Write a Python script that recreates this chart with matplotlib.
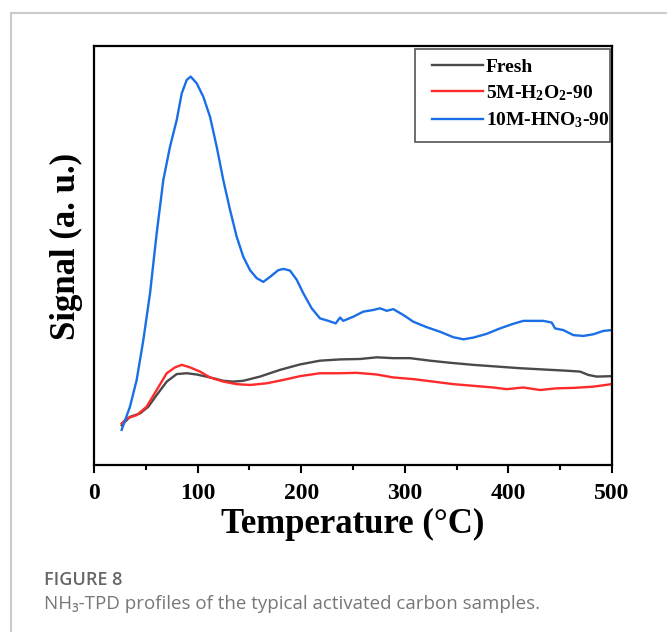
import matplotlib
matplotlib.use("Agg")
import matplotlib.pyplot as plt
from matplotlib.lines import Line2D
from matplotlib.patches import Rectangle

plt.rcParams['font.family'] = ['Liberation Serif', 'DejaVu Serif']
plt.rcParams['mathtext.fontset'] = 'custom'
plt.rcParams['mathtext.rm'] = 'Liberation Serif:bold'
plt.rcParams['mathtext.bf'] = 'Liberation Serif:bold'
plt.rcParams['mathtext.it'] = 'Liberation Serif:bold:italic'

# ---- data ----
fresh_T = [26.7, 34.7, 44.4, 52.4, 60.5, 70.2, 79.8, 89.5, 99.1, 112, 124.8, 134.5, 144.1,
           160.2, 179.5, 198.8, 218.1, 237.5, 256.8, 272.9, 288.9, 305, 324.3, 343.6,
           366.1, 388.7, 411.2, 433.7, 456.3, 469.1, 477.1, 485.2, 499.7]
fresh_S = [9.5, 11.5, 12.3, 13.9, 16.7, 19.9, 21.7, 21.9, 21.6, 20.9, 20.1, 19.9, 20.1,
           21.1, 22.7, 24.0, 24.9, 25.2, 25.3, 25.7, 25.5, 25.5, 24.9, 24.4,
           23.9, 23.5, 23.1, 22.8, 22.5, 22.3, 21.5, 21.1, 21.2]

h2o2_T = [26.7, 31.5, 41.2, 50.8, 60.5, 70.2, 78.2, 84.7, 92.7, 102.3, 112, 124.8, 137.7,
          150.6, 166.7, 182.7, 198.8, 218.1, 237.5, 253.6, 272.9, 288.9, 308.2, 327.5,
          346.8, 366.1, 385.4, 398.3, 414.4, 430.5, 446.6, 462.7, 482, 499.7]
h2o2_S = [9.9, 11.1, 11.9, 13.9, 17.9, 21.9, 23.3, 23.9, 23.3, 22.3, 20.9, 19.9, 19.3,
          19.1, 19.5, 20.3, 21.2, 21.9, 21.9, 22.0, 21.6, 20.9, 20.5, 19.9,
          19.3, 18.9, 18.5, 18.1, 18.5, 17.9, 18.3, 18.4, 18.7, 19.3]

hno3_T = [26.7, 34.7, 41.2, 47.6, 54.1, 60.5, 66.9, 73.4, 79.8, 84.7, 89.5, 93.3, 99.1,
          105.5, 112, 118.4, 124.8, 131.3, 137.7, 144.1, 150.6, 157, 163.4, 169.9,
          177.9, 183.0, 189.2, 195.7, 202, 210.1, 218.1, 226.2, 233.3, 237.5, 240.6,
          250.3, 259.9, 269.6, 276.1, 282.5, 288.9, 298.6, 308.2, 321.1, 334, 346.8,
          356.5, 366.1, 379, 391.9, 404.7, 414.4, 424, 433.7, 441.8, 445, 453, 462.7,
          472.3, 482, 491.6, 499.7]
hno3_S = [8.4, 13.9, 20.3, 29.8, 41.0, 55.3, 68.0, 76.0, 82.3, 88.7, 91.9, 92.7, 91.1,
          87.9, 83.1, 76.0, 68.0, 60.9, 54.5, 49.7, 46.5, 44.6, 43.7, 44.9,
          46.5, 46.8, 46.4, 44.2, 41.0, 37.4, 35.0, 34.4, 33.8, 35.2, 34.4,
          35.4, 36.6, 37.0, 37.4, 36.8, 37.2, 35.8, 34.2, 32.9, 31.8, 30.5,
          30.0, 30.4, 31.3, 32.6, 33.7, 34.4, 34.4, 34.4, 34.0, 32.6, 32.2, 31.0,
          30.8, 31.2, 32.0, 32.2]

labels = ['Fresh', r'5M-H$_{2}$O$_{2}$-90', r'10M-HNO$_{3}$-90']
colors = ['#4a4a4a', '#ff2a2a', '#1a6fe6']
x_ticks = [0, 100, 200, 300, 400, 500]

fig = plt.figure(figsize=(6.67, 6.32), dpi=100)

# card border
fig.add_artist(Line2D([11/667, 11/667], [0, 1 - 13/632], color='#cccccc', lw=1.5,
                      transform=fig.transFigure))
fig.add_artist(Line2D([11/667, 1], [1 - 13/632, 1 - 13/632], color='#cccccc', lw=1.5,
                      transform=fig.transFigure))

ax = fig.add_axes([94/667, 1 - 465/632, (612 - 94)/667, (465 - 46)/632])
for T, S, lab, c in zip([fresh_T, h2o2_T, hno3_T], [fresh_S, h2o2_S, hno3_S], labels, colors):
    ax.plot(T, S, color=c, lw=1.7, label=lab, solid_joinstyle='round')

ax.set_xlim(0, 500)
ax.set_ylim(0, 100)
ax.set_xticks(x_ticks)
ax.set_xticks(range(50, 500, 100), minor=True)
ax.set_yticks([])
ax.tick_params(axis='x', which='major', direction='out', length=6, width=1.5, pad=7,
               labelsize=17)
ax.tick_params(axis='x', which='minor', direction='out', length=3.5, width=1.5)
for lab in ax.get_xticklabels():
    lab.set_fontweight('bold')
for sp in ax.spines.values():
    sp.set_linewidth(1.6)

ax.set_xlabel('Temperature (°C)', fontsize=25, fontweight='bold', labelpad=3)
ax.set_ylabel('Signal (a. u.)', fontsize=25, fontweight='bold')
ax.yaxis.set_label_coords(-0.021, 0.5215)

leg = ax.legend(loc='upper left', bbox_to_anchor=(0.6525, 0.9713),
                prop={'weight': 'bold', 'size': 14}, frameon=False,
                handlelength=2.63, handletextpad=0.15, labelspacing=0.39,
                borderpad=0.0, borderaxespad=0.0)
ax.add_patch(Rectangle((0.6197, 0.7709), 0.9961 - 0.6197, 0.9928 - 0.7709,
                       transform=ax.transAxes, fill=False, edgecolor='#555555',
                       lw=1.2, zorder=5))

fig.text(44/667, 1 - 585/632, 'FIGURE 8', fontsize=13, color='#666666',
         family=['Open Sans', 'DejaVu Sans'], fontweight='semibold')
fig.text(44/667, 1 - 609/632, 'NH\u2083-TPD profiles of the typical activated carbon samples.',
         fontsize=13.5, color='#777777', family=['Open Sans', 'DejaVu Sans'])

fig.savefig('out.png', dpi=100)
